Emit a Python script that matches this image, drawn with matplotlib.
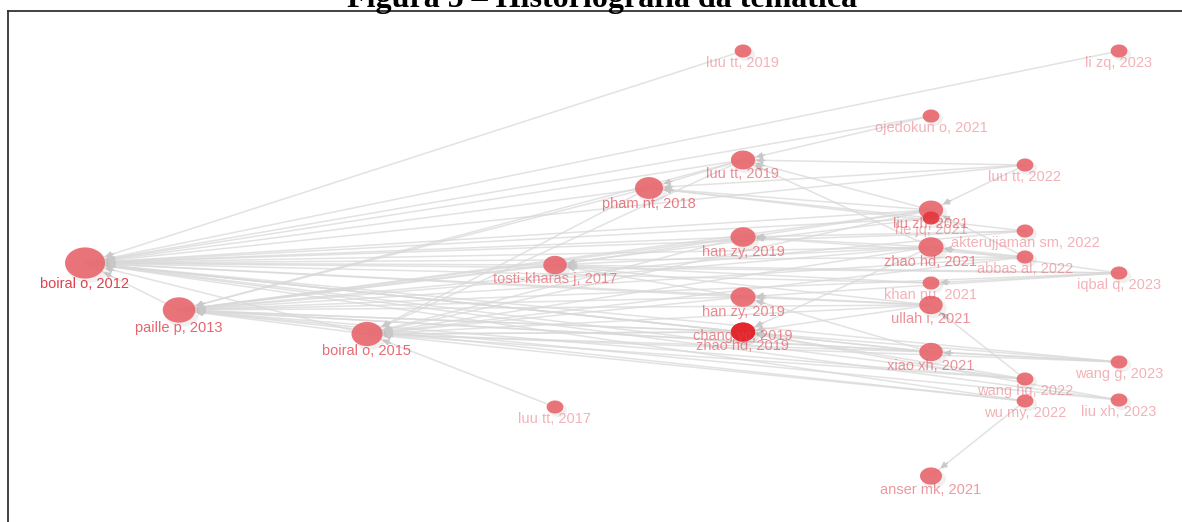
import matplotlib
matplotlib.use("Agg")
import matplotlib.pyplot as plt
import numpy as np
from matplotlib.path import Path
from matplotlib.lines import Line2D
from matplotlib.collections import LineCollection
from matplotlib import transforms

# historiograph nodes: label, publication year, vertical lane (layout), local citations
labels = [
    "boiral o, 2012", "paille p, 2013", "boiral o, 2015", "tosti-kharas j, 2017",
    "luu tt, 2017", "pham nt, 2018", "luu tt, 2019", "luu tt, 2019",
    "han zy, 2019", "han zy, 2019", "chang yc, 2019", "zhao hd, 2019",
    "ojedokun o, 2021", "liu zh, 2021", "he jq, 2021", "zhao hd, 2021",
    "khan nu, 2021", "ullah i, 2021", "xiao xh, 2021", "anser mk, 2021",
    "luu tt, 2022", "akterujjaman sm, 2022", "abbas al, 2022", "wang hq, 2022",
    "wu my, 2022", "li zq, 2023", "iqbal q, 2023", "wang g, 2023", "liu xh, 2023",
]
years = [2012, 2013, 2015, 2017, 2017, 2018, 2019, 2019, 2019, 2019, 2019, 2019,
         2021, 2021, 2021, 2021, 2021, 2021, 2021, 2021,
         2022, 2022, 2022, 2022, 2022, 2023, 2023, 2023, 2023]
lanes = [263, 310, 334, 265, 407, 188, 51, 160, 237, 297, 332, 332,
         116, 210, 218, 247, 283, 305, 352, 476,
         165, 231, 257, 379, 401, 51, 273, 362, 400]
cites = [40, 30, 28, 18, 9, 24, 9, 19, 20, 20, 19, 19,
         9, 19, 9, 20, 9, 18, 18, 16,
         9, 9, 9, 9, 9, 9, 9, 9, 9]

# citation links: cited node -> list of citing nodes
cited_by = {
    0: [1, 2, 3, 5, 6, 7, 8, 9, 10, 11, 12, 13, 14, 15, 16, 17, 18, 20, 21, 22, 23, 24, 25, 26, 27, 28],
    1: [2, 3, 5, 7, 8, 9, 10, 11, 13, 14, 15, 17, 18, 21, 22, 23, 24, 26, 27, 28],
    2: [4, 5, 7, 8, 9, 10, 11, 13, 15, 17, 18, 22, 23, 24, 27],
    3: [9, 13, 15, 16, 17, 26],
    5: [7, 13, 14, 20, 21],
    7: [12, 13, 15, 20],
    8: [15, 21, 22],
    9: [17, 18, 26],
    10: [18, 23, 27],
    11: [15, 17, 28],
    13: [20, 22],
    15: [22, 26],
    16: [26],
    17: [23],
    18: [27],
    19: [24],
}

W, H = 1182, 522
px_per_year = 94.0
fig = plt.figure(figsize=(W / 100, H / 100), dpi=100)
ax = fig.add_axes([0, 0, 1, 1])
ax.set_xlim(2012 - 85 / px_per_year, 2012 + (W - 85) / px_per_year)
ax.set_ylim(H, 0)
ax.axis("off")

x = np.array(years, dtype=float)
y = np.array(lanes, dtype=float)
c = np.array(cites, dtype=float)
w_px = 10 + 0.75 * c            # node width in pixels
h_px = 0.78 * w_px
sizes = (w_px * 0.72) ** 2      # scatter area in points^2

# edges, center to center
segs = []
for tgt, srcs in cited_by.items():
    for s in srcs:
        segs.append([(x[s], y[s]), (x[tgt], y[tgt])])
ax.add_collection(LineCollection(segs, colors="#d9d9d9", linewidths=1.1, alpha=0.75, zorder=1))

# arrow heads at the border of the cited node
fig.canvas.draw()
td = ax.transData
inv = td.inverted()
for tgt, srcs in cited_by.items():
    pt = td.transform((x[tgt], y[tgt]))
    for s in srcs:
        ps = td.transform((x[s], y[s]))
        u = (ps - pt) / np.linalg.norm(ps - pt)
        tip = pt + u * (w_px[tgt] / 2 + 1)
        tail = tip + u * 9
        ax.annotate("", xy=inv.transform(tip), xytext=inv.transform(tail),
                    arrowprops=dict(arrowstyle="-|>", color="#c8c8c8", lw=1.0,
                                    shrinkA=0, shrinkB=0, mutation_scale=9),
                    zorder=2)

# ellipse marker
t = np.linspace(0, 2 * np.pi, 60)
ell = Path(np.column_stack([np.cos(t), 0.78 * np.sin(t)]), closed=True)

highlight = {10: "#e3262c", 11: "#e3262c", 14: "#e4383e"}
colors = [highlight.get(i, "#e8686e") for i in range(len(labels))]

shadow = transforms.offset_copy(td, fig=fig, x=3, y=-3, units="dots")
ax.scatter(x, y, s=sizes * 1.15, marker=ell, color="#888888", alpha=0.12,
           linewidths=0, transform=shadow, zorder=3)
ax.scatter(x, y, s=sizes, marker=ell, color=colors, alpha=0.92,
           linewidths=0, zorder=4)

# labels below nodes, fading with citation count
nudge = {10: -10}
for i, lab in enumerate(labels):
    off = h_px[i] / 2 + 5 + nudge.get(i, 0)
    a = 0.4 + 0.6 * (c[i] - c.min()) / (c.max() - c.min())
    ax.annotate(lab, (x[i], y[i]), xytext=(0, -off * 0.72), textcoords="offset points",
                ha="center", va="center", fontsize=10.5, color="#e0404c", alpha=a,
                family=["Liberation Sans", "DejaVu Sans"], zorder=5)

# frame and caption
fig.add_artist(Line2D([8 / W, 1], [1 - 11 / H, 1 - 11 / H], color="#333333", lw=1.3))
fig.add_artist(Line2D([8 / W, 8 / W], [0, 1 - 11 / H], color="#333333", lw=1.3))
fig.text(602 / W, 1 - 7 / H, "Figura 5 – Historiografia da temática", ha="center",
         va="baseline", fontsize=23, fontweight="bold",
         family=["Liberation Serif", "DejaVu Serif"])

fig.savefig("out.png", dpi=100)
